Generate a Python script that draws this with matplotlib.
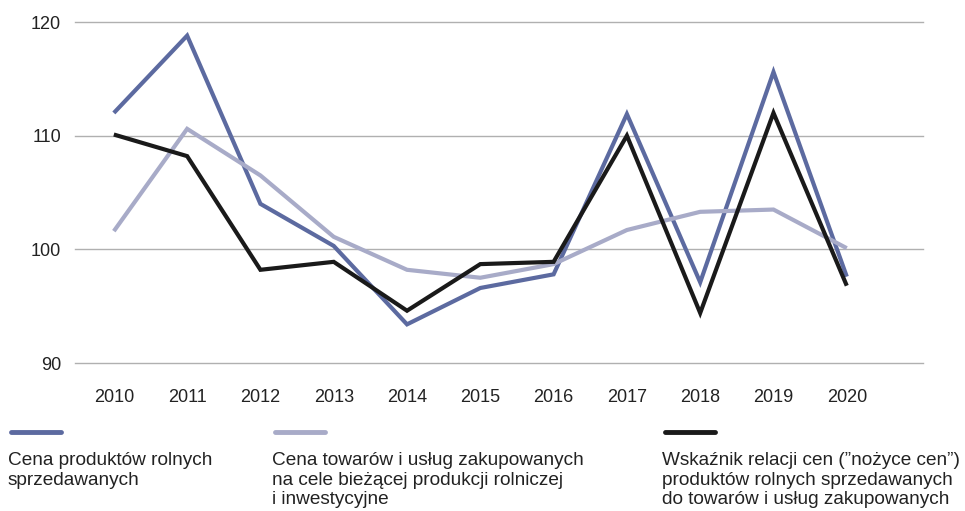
import matplotlib
matplotlib.use("Agg")
import matplotlib.pyplot as plt
from matplotlib.lines import Line2D

years = [2010, 2011, 2012, 2013, 2014, 2015, 2016, 2017, 2018, 2019, 2020]
sold = [112.0, 118.8, 104.0, 100.3, 93.4, 96.6, 97.8, 111.9, 97.1, 115.6, 97.6]
bought = [101.6, 110.6, 106.5, 101.1, 98.2, 97.5, 98.7, 101.7, 103.3, 103.5, 100.1]
ratio = [110.1, 108.2, 98.2, 98.9, 94.6, 98.7, 98.9, 110.0, 94.4, 112.0, 96.8]
yticks = [90, 100, 110, 120]
labels = ["Cena produktów rolnych\nsprzedawanych",
          "Cena towarów i usług zakupowanych\nna cele bieżącej produkcji rolniczej\ni inwestycyjne",
          "Wskaźnik relacji cen (”nożyce cen”)\nproduktów rolnych sprzedawanych\ndo towarów i usług zakupowanych"]
colors = ["#5c6aa0", "#a8abc8", "#1a1a1a"]

plt.rcParams['font.family'] = ['Liberation Sans', 'DejaVu Sans']
W, H = 965, 511
fig = plt.figure(figsize=(W/100, H/100), dpi=100)
ax = fig.add_axes([75/W, 1-363/H, (923-75)/W, (363-22)/H])
for s, c in zip([sold, bought, ratio], colors):
    ax.plot(years, s, color=c, lw=3, solid_joinstyle='miter', solid_capstyle='butt')
ax.set_ylim(90, 120)
ax.set_xlim(2009.47, 2021.04)
ax.set_yticks(yticks)
ax.set_xticks(years)
ax.yaxis.grid(True, color="#b0b0b0", lw=1)
for gl in ax.get_ygridlines():
    gl.set_clip_on(False)
ax.set_axisbelow(True)
for sp in ax.spines.values():
    sp.set_visible(False)
ax.tick_params(length=0, labelsize=13, colors="#222222")
ax.tick_params(axis='y', pad=10)
ax.tick_params(axis='x', pad=19)

xs = [8, 272, 662]
for x, c, lab in zip(xs, colors, labels):
    fig.add_artist(Line2D([(x+3)/W, (x+53)/W], [1-432/H, 1-432/H], color=c, lw=3.5,
                          solid_capstyle='round', transform=fig.transFigure))
    fig.text(x/W, 1-452/H, lab, ha='left', va='top', fontsize=13.7, color="#222222",
             linespacing=1.2)

fig.savefig("out.png", dpi=100)
